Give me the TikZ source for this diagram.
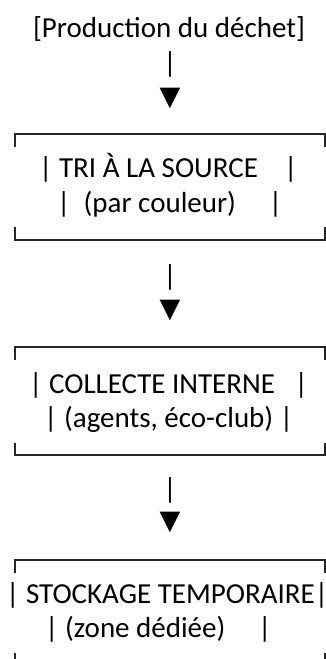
\documentclass[tikz,border=0pt]{standalone}
\usepackage{fontspec}
\setmainfont{Carlito}
\newfontfamily\symfont{DejaVu Sans}
\usetikzlibrary{positioning}

\tikzset{
  txt/.style={inner sep=0pt, font=\fontsize{29}{35}\selectfont},
  row/.style={txt, anchor=base west},
  tri/.style={inner sep=0pt, font=\symfont\fontsize{27}{30}\selectfont},
  frame/.style={line width=1.3pt, black!85},
}

\begin{document}
\begin{tikzpicture}[x=1pt, y=-1pt]
  \clip (0,0) rectangle (326,659);
  % source
  \node[txt, anchor=base] (prod) at (169,37) {[Production du déchet]};
  \node[txt] (bar1) at (170,64) {|};
  \node[tri] (tri1) at (170,98) {▼};
  % tri a la source
  \draw[frame] (15,147) |- (325,134) -- (325,147);
  \node[row] (tri-a) at (39,177) {| TRI À LA SOURCE~~~~|};
  \node[row] (tri-b) at (57,212) {|~~(par couleur)~~~~~|};
  \draw[frame] (15,227) |- (325,240) -- (325,227);
  \node[txt] (bar2) at (170,277.5) {|};
  \node[tri] (tri2) at (170,310) {▼};
  % collecte
  \draw[frame] (15,360) |- (325,347) -- (325,360);
  \node[row] (coll-a) at (29,393) {| COLLECTE INTERNE~~~|};
  \node[row] (coll-b) at (44,427) {| (agents, éco-club) |};
  \draw[frame] (15,443) |- (325,455) -- (325,443);
  \node[txt] (bar3) at (170,490) {|};
  \node[tri] (tri3) at (170,522.5) {▼};
  % stockage
  \draw[frame] (15,573) |- (325,560) -- (325,573);
  \node[row] (stock-a) at (6,603) {| STOCKAGE TEMPORAIRE|};
  \node[row] (stock-b) at (45,637) {| (zone dédiée)~~~~~|};
  \draw[frame] (15,653) |- (325,667) -- (325,653);
\end{tikzpicture}
\end{document}
